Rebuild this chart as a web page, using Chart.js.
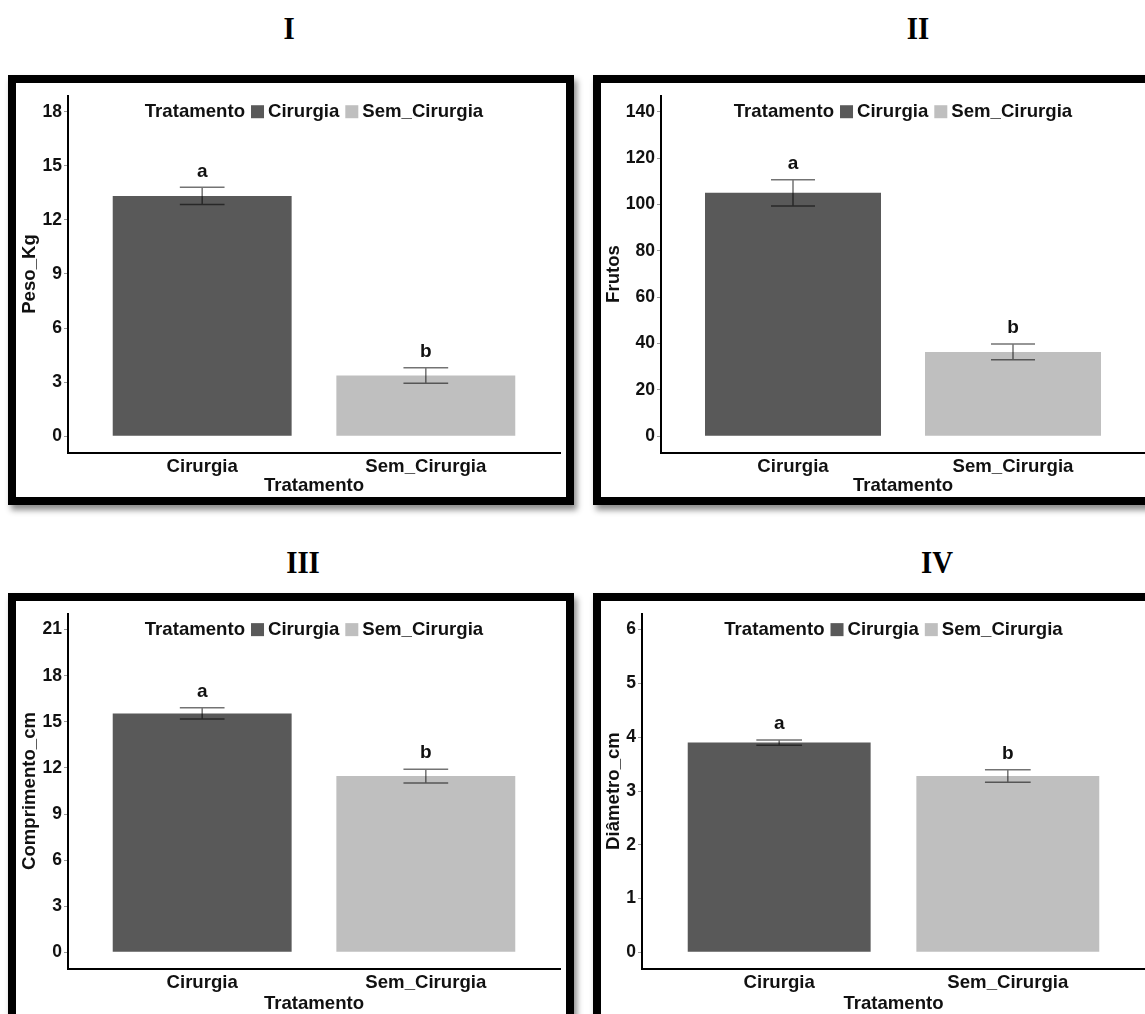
<!DOCTYPE html>
<html>
<head>
<meta charset="utf-8">
<script src="https://cdn.jsdelivr.net/npm/chart.js@4.4.0/dist/chart.umd.min.js"></script>
<style>
html,body{margin:0;padding:0;background:#fff;}
body{width:1145px;height:1014px;overflow:hidden;position:relative;}
.ptitle{position:absolute;font-family:'Liberation Serif','Times New Roman',serif;font-weight:bold;font-size:32px;line-height:1;transform:translate(-50%,-50%) scaleX(0.9);color:#000;}
.frame{position:absolute;border:8px solid #000;background:#fff;box-shadow:3px 5px 6px rgba(0,0,0,0.45);}
.frame canvas{position:absolute;left:0;top:0;}
</style>
</head>
<body>
<div class="ptitle" style="left:289px;top:28px">I</div>
<div class="ptitle" style="left:918px;top:28px">II</div>
<div class="ptitle" style="left:303px;top:562px">III</div>
<div class="ptitle" style="left:937px;top:562px">IV</div>

<div class="frame" style="left:8px;top:75px;width:550px;height:414px"><canvas id="c1" width="550" height="414" style="width:550px;height:414px"></canvas></div>
<div class="frame" style="left:593px;top:75px;width:580px;height:414px"><canvas id="c2" width="544" height="414" style="width:544px;height:414px"></canvas></div>
<div class="frame" style="left:8px;top:593px;width:550px;height:430px"><canvas id="c3" width="550" height="414" style="width:550px;height:414px"></canvas></div>
<div class="frame" style="left:593px;top:593px;width:580px;height:430px"><canvas id="c4" width="544" height="414" style="width:544px;height:414px"></canvas></div>

<script>
// ---- data ----
const categories = ['Cirurgia', 'Sem_Cirurgia'];
const groupLetters = ['a', 'b'];
const legendTitle = 'Tratamento';
const xAxisTitle = 'Tratamento';

const pesoMean = [13.33, 3.37];
const pesoSE = [0.48, 0.435];
const pesoTicks = [0, 3, 6, 9, 12, 15, 18];

const frutosMean = [105.0, 36.4];
const frutosSE = [5.65, 3.4];
const frutosTicks = [0, 20, 40, 60, 80, 100, 120, 140];

const comprMean = [15.55, 11.47];
const comprSE = [0.36, 0.45];
const comprTicks = [0, 3, 6, 9, 12, 15, 18, 21];

const diamMean = [3.90, 3.28];
const diamSE = [0.048, 0.115];
const diamTicks = [0, 1, 2, 3, 4, 5, 6];

// ---- styles ----
const barColors = ['#595959', '#BFBFBF'];
const FONT = "'Liberation Sans', Arial, Helvetica, sans-serif";
const TXT = '#111111';

const annotPlugin = {
  id: 'annot',
  afterDatasetsDraw(chart) {
    const ds = chart.data.datasets[0];
    const xs = chart.scales.x, ys = chart.scales.y;
    const ctx = chart.ctx;
    ctx.save();
    ds.data.forEach((p, i) => {
      const se = ds.errors[i];
      const xc = xs.getPixelForValue(p.x);
      const half = xs.getPixelForValue(p.x + 0.1) - xc;
      const yt = ys.getPixelForValue(p.y + se);
      const yb = ys.getPixelForValue(p.y - se);
      ctx.strokeStyle = 'rgba(0,0,0,0.55)';
      ctx.lineWidth = 1.5;
      ctx.beginPath();
      ctx.moveTo(xc, yt); ctx.lineTo(xc, yb);
      ctx.moveTo(xc - half, yt); ctx.lineTo(xc + half, yt);
      ctx.moveTo(xc - half, yb); ctx.lineTo(xc + half, yb);
      ctx.stroke();
      ctx.fillStyle = TXT;
      ctx.font = 'bold 19px ' + FONT;
      ctx.textAlign = 'center';
      ctx.textBaseline = 'middle';
      ctx.fillText(groupLetters[i], xc, yt - 16);
    });
    ctx.restore();
  },
  afterDraw(chart) {
    const ys = chart.scales.y;
    const ticks = chart.options.plugins.annot.ticks;
    const ctx = chart.ctx;
    const area = chart.chartArea;
    ctx.save();
    ctx.font = 'bold 18.6px ' + FONT;
    ctx.textBaseline = 'middle';
    ctx.textAlign = 'left';
    const box = 13;
    const wT = ctx.measureText(legendTitle).width;
    const w1 = ctx.measureText(categories[0]).width;
    const w2 = ctx.measureText(categories[1]).width;
    const total = wT + 6 + box + 4 + w1 + 6 + box + 4 + w2;
    let x = (area.left + area.right) / 2 - total / 2;
    const y = ys.getPixelForValue(ticks[ticks.length - 1]);
    ctx.fillStyle = TXT;
    ctx.fillText(legendTitle, x, y); x += wT + 6;
    ctx.fillStyle = barColors[0]; ctx.fillRect(x, y - box / 2, box, box); x += box + 4;
    ctx.fillStyle = TXT; ctx.fillText(categories[0], x, y); x += w1 + 6;
    ctx.fillStyle = barColors[1]; ctx.fillRect(x, y - box / 2, box, box); x += box + 4;
    ctx.fillStyle = TXT; ctx.fillText(categories[1], x, y);
    ctx.restore();
  }
};

function makeChart(id, means, ses, ticks, yTitle, lay) {
  const tmax = ticks[ticks.length - 1];
  const ext = tmax * 0.05;
  return new Chart(document.getElementById(id), {
    type: 'bar',
    data: {
      datasets: [{
        data: categories.map((c, i) => ({ x: i + 1, y: means[i] })),
        backgroundColor: barColors,
        borderWidth: 0,
        categoryPercentage: 1,
        barPercentage: 0.8,
        errors: ses
      }]
    },
    options: {
      responsive: false,
      animation: false,
      layout: { padding: { top: lay.padTop, right: lay.padRight, left: 0, bottom: 0 } },
      plugins: { legend: { display: false }, tooltip: { enabled: false }, annot: { ticks: ticks } },
      scales: {
        x: {
          type: 'linear', min: 0.4, max: 2.6, offset: false,
          afterBuildTicks: s => { s.ticks = categories.map((c, i) => ({ value: i + 1 })); },
          afterFit: s => { s.height = lay.xHeight; },
          ticks: {
            callback: v => categories[Math.round(v) - 1],
            autoSkip: false, maxRotation: 0, minRotation: 0, padding: 3,
            color: TXT, font: { family: FONT, size: 18.6, weight: 'bold' }
          },
          grid: { display: false, drawTicks: false, offset: false },
          border: { display: true, color: '#000', width: 2 },
          title: { display: true, text: xAxisTitle, color: TXT, padding: { top: 0, bottom: 0 },
                   font: { family: FONT, size: 18.6, weight: 'bold' } }
        },
        y: {
          type: 'linear', min: -ext, max: tmax + ext,
          afterBuildTicks: s => { s.ticks = ticks.map(v => ({ value: v })); },
          afterFit: s => { s.width = lay.yWidth; },
          ticks: { padding: 2, color: TXT, font: { family: FONT, size: 17.5, weight: 'bold' } },
          grid: { display: true, drawOnChartArea: false, drawTicks: true, tickLength: 4, tickColor: '#999', tickWidth: 1 },
          border: { display: true, color: '#000', width: 2 },
          title: { display: true, text: yTitle, color: TXT, padding: { top: lay.yTitlePad, bottom: 0 },
                   font: { family: FONT, size: 18.6, weight: 'bold' } }
        }
      }
    },
    plugins: [annotPlugin]
  });
}

makeChart('c1', pesoMean, pesoSE, pesoTicks, 'Peso_Kg', { padTop: 5.5, padRight: 6, xHeight: 44.5, yWidth: 52, yTitlePad: 3 });
makeChart('c2', frutosMean, frutosSE, frutosTicks, 'Frutos', { padTop: 5.5, padRight: 0, xHeight: 44.5, yWidth: 60, yTitlePad: 2 });
makeChart('c3', comprMean, comprSE, comprTicks, 'Comprimento_cm', { padTop: 5.5, padRight: 6, xHeight: 46.5, yWidth: 52, yTitlePad: 3 });
makeChart('c4', diamMean, diamSE, diamTicks, 'Diâmetro_cm', { padTop: 5.5, padRight: 0, xHeight: 46.5, yWidth: 41, yTitlePad: 2 });
</script>
</body>
</html>
